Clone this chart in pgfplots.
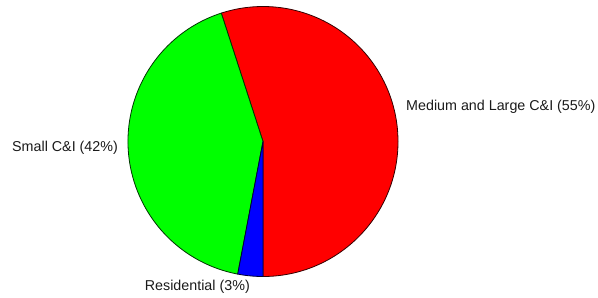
\documentclass[border=0pt]{standalone}
\usepackage{pgfplots}
\pgfplotsset{compat=1.18}
\usepackage{fontspec}
\setmainfont{Liberation Sans}
\definecolor{txt}{HTML}{1A1A1A}
% slice shares (percent)
\def\vMed{55}
\def\vSmall{42}
\def\vRes{3}
\begin{document}
\begin{tikzpicture}
\begin{axis}[name=ax,
  x=1bp, y=1bp, xmin=0, xmax=598, ymin=0, ymax=297,
  hide axis, clip=false]
  % pie: centre (263,155.5), radius 135, start at bottom (-90 deg), counterclockwise
  \pgfmathsetmacro{\aA}{-90}
  \pgfmathsetmacro{\aB}{\aA+3.6*\vMed}
  \pgfmathsetmacro{\aC}{\aB+3.6*\vSmall}
  \pgfmathsetmacro{\aD}{\aC+3.6*\vRes}
  \filldraw[fill={rgb,255:red,255;green,0;blue,0}, draw=black!80!red, line width=0.8bp, line join=round]
    (axis cs:263,155.5) -- ++(\aA:135bp) arc[start angle=\aA, end angle=\aB, radius=135bp] -- cycle;
  \filldraw[fill={rgb,255:red,0;green,255;blue,0}, draw=black!80!green, line width=0.8bp, line join=round]
    (axis cs:263,155.5) -- ++(\aB:135bp) arc[start angle=\aB, end angle=\aC, radius=135bp] -- cycle;
  \filldraw[fill={rgb,255:red,0;green,0;blue,255}, draw=black!80!blue, line width=0.8bp, line join=round]
    (axis cs:263,155.5) -- ++(\aC:135bp) arc[start angle=\aC, end angle=\aD, radius=135bp] -- cycle;
  \node[anchor=west, inner sep=0pt, text=txt, font=\fontsize{14.3bp}{17bp}\selectfont] at (axis cs:406,190) {Medium and Large C\&I (\vMed\%)};
  \node[anchor=west, inner sep=0pt, text=txt, font=\fontsize{14.3bp}{17bp}\selectfont] at (axis cs:12,149) {Small C\&I (\vSmall\%)};
  \node[anchor=east, inner sep=0pt, text=txt, font=\fontsize{14.3bp}{17bp}\selectfont] at (axis cs:250,10) {Residential (\vRes\%)};
\end{axis}
\pgfresetboundingbox
\path (ax.south west) rectangle (ax.north east);
\end{tikzpicture}
\end{document}
